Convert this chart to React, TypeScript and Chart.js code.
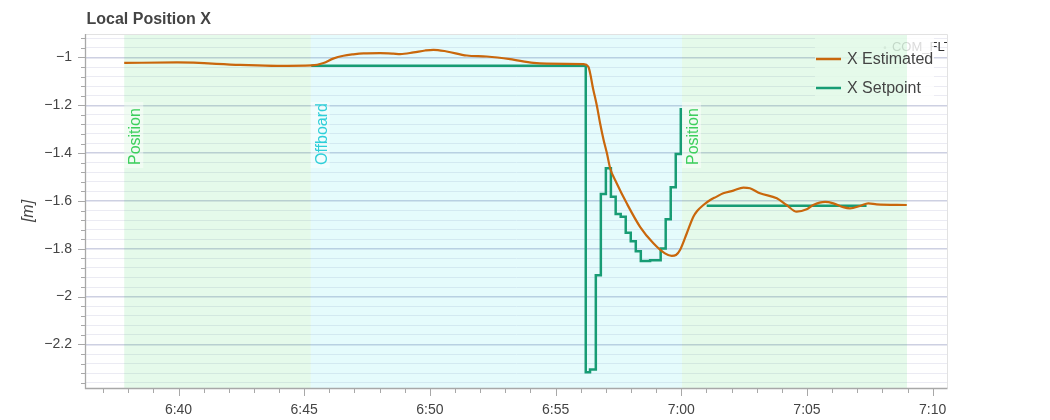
import React, { useEffect, useRef } from "react";
import { Chart, registerables } from "chart.js";

Chart.register(...registerables);

// ---------- data ----------
const titleText = "Local Position X";
const yAxisTitle = "[m]";
const seriesNames = ["X Estimated", "X Setpoint"];
const seriesColors = ["#c9670c", "#179c74"];

// time in seconds (tick labels shown as m:ss)
const estTimes = [
  397.84, 399.95, 402.45, 403.92, 405.3, 405.77, 406.15, 406.56, 406.95, 407.36,
  408.02, 408.54, 408.82, 409.35, 409.81, 410.14, 410.67, 411.47, 412.26, 413.19,
  414.12, 414.65, 416.11, 416.3, 416.5, 416.65, 416.77, 416.91, 417.04, 417.17,
  417.43, 417.83, 418.36, 418.89, 419.35, 419.62, 419.79, 419.95, 420.22, 420.48,
  420.63, 420.88, 421.15, 421.39, 421.67, 422.07, 422.47, 422.73, 423.13, 423.8,
  424.19, 424.59, 424.99, 425.25, 425.72, 426.05, 426.44, 426.71, 427.11, 427.44,
  427.77, 428.97,
];
const estValues = [
  -1.023, -1.021, -1.031, -1.035, -1.033, -1.023, -1.005, -0.993, -0.987, -0.983,
  -0.982, -0.984, -0.986, -0.979, -0.971, -0.968, -0.975, -0.992, -0.996, -1.007,
  -1.023, -1.026, -1.028, -1.038, -1.135, -1.206, -1.275, -1.345, -1.4, -1.463,
  -1.526, -1.61, -1.708, -1.777, -1.819, -1.83, -1.826, -1.805, -1.735, -1.666,
  -1.642, -1.617, -1.596, -1.583, -1.568, -1.557, -1.544, -1.547, -1.568, -1.589,
  -1.617, -1.645, -1.635, -1.617, -1.604, -1.61, -1.626, -1.631, -1.621, -1.61,
  -1.614, -1.617,
];

const spTimes = [
  405.28, 416.2, 416.37, 416.6, 416.8, 417.0, 417.2, 417.39, 417.59, 417.79,
  417.99, 418.19, 418.39, 418.76, 419.18, 419.38, 419.58, 419.78, 419.98,
  420.5, 421.01, 427.37,
];
const spValues: (number | null)[] = [
  -1.035, -2.316, -2.305, -1.911, -1.571, -1.463, -1.582, -1.655, -1.666, -1.733,
  -1.768, -1.81, -1.851, -1.848, -1.799, -1.677, -1.543, -1.404, -1.211,
  null, -1.62, -1.62,
];

const modeNames = ["Position", "Offboard", "Position"];
const modeStarts = [397.84, 405.26, 420.03];
const modeEnds = [405.26, 420.03, 428.98];
const modeFills = ["rgba(0,204,51,0.1)", "rgba(0,215,230,0.1)", "rgba(0,204,51,0.1)"];
const modeTextColors = ["#3ccf5c", "#2fcfd9", "#3ccf5c"];

const paramLabel = "COM_FLTMODE1";
const paramTime = 428.1;
const paramValue = -0.959;

const xMin = 396.32;
const xMax = 430.57;
const yMin = -2.382;
const yMax = -0.902;
const xMajorStep = 5;
const xMinorStep = 1;
const yMajorStep = 0.2;
const yMinorStep = 0.04;

// ---------- helpers ----------
const FONT = '"Liberation Sans", Arial, Helvetica, sans-serif';

const xTicks: number[] = [];
for (let k = Math.ceil(xMin / xMinorStep); k <= Math.floor(xMax / xMinorStep); k++) xTicks.push(k * xMinorStep);
const yTicks: number[] = [];
for (let k = Math.ceil(yMin / yMinorStep - 1e-9); k <= Math.floor(yMax / yMinorStep + 1e-9); k++)
  yTicks.push(Math.round(k * yMinorStep * 1000) / 1000);

const isMajor = (v: number, step: number) => Math.abs(v / step - Math.round(v / step)) < 1e-6;
const fmtTime = (v: number) => `${Math.floor(v / 60)}:${String(Math.round(v % 60)).padStart(2, "0")}`;
const fmtNum = (v: number) => (v < 0 ? "\u2212" : "") + String(Math.abs(Math.round(v * 100) / 100));

const decorPlugin = {
  id: "decor",
  beforeDatasetsDraw(chart: any) {
    const { ctx, chartArea: ca, scales } = chart;
    const x = scales.x;
    const y = scales.y;
    ctx.save();
    ctx.beginPath();
    ctx.rect(ca.left, ca.top, ca.right - ca.left, ca.bottom - ca.top);
    ctx.clip();

    // parameter-change marker text
    const px = x.getPixelForValue(paramTime);
    const py = y.getPixelForValue(paramValue);
    ctx.fillStyle = "#999";
    ctx.beginPath();
    ctx.arc(px, py, 1.3, 0, Math.PI * 2);
    ctx.fill();
    ctx.fillStyle = "#333";
    ctx.font = `13px ${FONT}`;
    ctx.textAlign = "left";
    ctx.textBaseline = "middle";
    ctx.fillText(paramLabel, px + 7, py);

    // legend background
    ctx.fillStyle = "rgba(255,255,255,0.82)";
    ctx.fillRect(ca.right - 132, ca.top + 3, 119, 65);

    // flight mode backgrounds
    for (let i = 0; i < modeNames.length; i++) {
      const x0 = x.getPixelForValue(modeStarts[i]);
      const x1 = x.getPixelForValue(modeEnds[i]);
      ctx.fillStyle = modeFills[i];
      ctx.fillRect(x0, ca.top, x1 - x0, ca.bottom - ca.top);
    }
    // flight mode labels
    for (let i = 0; i < modeNames.length; i++) {
      const x0 = x.getPixelForValue(modeStarts[i]);
      ctx.fillStyle = "rgba(255,255,255,0.45)";
      ctx.fillRect(x0, ca.top + 68, 19, 66);
      ctx.save();
      ctx.translate(x0 + 16, ca.top + 131);
      ctx.rotate(-Math.PI / 2);
      ctx.font = `16px ${FONT}`;
      ctx.fillStyle = modeTextColors[i];
      ctx.textAlign = "left";
      ctx.textBaseline = "alphabetic";
      ctx.fillText(modeNames[i], 0, 0);
      ctx.restore();
    }
    ctx.restore();
  },
  afterDraw(chart: any) {
    const { ctx, chartArea: ca, scales } = chart;
    const x = scales.x;
    const y = scales.y;
    ctx.save();
    // border (top/right)
    ctx.strokeStyle = "#e2e2e2";
    ctx.lineWidth = 1;
    ctx.beginPath();
    ctx.moveTo(ca.left, ca.top + 0.5);
    ctx.lineTo(ca.right + 0.5, ca.top + 0.5);
    ctx.lineTo(ca.right + 0.5, ca.bottom);
    ctx.stroke();

    // axes
    ctx.strokeStyle = "#a8a8a8";
    ctx.lineWidth = 1.3;
    ctx.beginPath();
    ctx.moveTo(ca.left - 0.5, ca.top);
    ctx.lineTo(ca.left - 0.5, ca.bottom + 0.5);
    ctx.lineTo(ca.right + 0.5, ca.bottom + 0.5);
    ctx.stroke();
    ctx.lineWidth = 1;
    ctx.beginPath();
    for (const v of yTicks) {
      const p = Math.round(y.getPixelForValue(v)) + 0.5;
      const len = isMajor(v, yMajorStep) ? 7 : 4;
      ctx.moveTo(ca.left - 1, p);
      ctx.lineTo(ca.left - 1 - len, p);
    }
    for (const v of xTicks) {
      const p = Math.round(x.getPixelForValue(v)) + 0.5;
      const len = isMajor(v, xMajorStep) ? 7 : 4;
      ctx.moveTo(p, ca.bottom + 1);
      ctx.lineTo(p, ca.bottom + 1 + len);
    }
    ctx.stroke();

    // title
    ctx.fillStyle = "#444";
    ctx.font = `bold 16px ${FONT}`;
    ctx.textAlign = "left";
    ctx.textBaseline = "alphabetic";
    ctx.fillText(titleText, ca.left + 0.5, 23.5);

    // y axis title
    ctx.save();
    ctx.translate(33, (ca.top + ca.bottom) / 2);
    ctx.rotate(-Math.PI / 2);
    ctx.font = `italic 16px ${FONT}`;
    ctx.textAlign = "center";
    ctx.textBaseline = "alphabetic";
    ctx.fillStyle = "#444";
    ctx.fillText(yAxisTitle, 0, 0);
    ctx.restore();

    // legend items
    const lx = ca.right - 131;
    const rows = [ca.top + 25, ca.top + 54];
    for (let i = 0; i < seriesNames.length; i++) {
      ctx.strokeStyle = seriesColors[i];
      ctx.lineWidth = 2.5;
      ctx.beginPath();
      ctx.moveTo(lx, rows[i]);
      ctx.lineTo(lx + 25, rows[i]);
      ctx.stroke();
      ctx.fillStyle = "#444";
      ctx.font = `16px ${FONT}`;
      ctx.textAlign = "left";
      ctx.textBaseline = "middle";
      ctx.fillText(seriesNames[i], lx + 31, rows[i] + 1);
    }
    ctx.restore();
  },
};

export default function App() {
  const canvasRef = useRef<HTMLCanvasElement | null>(null);

  useEffect(() => {
    if (!canvasRef.current) return;
    const estData = estTimes.map((t, i) => ({ x: t, y: estValues[i] }));
    const spData = spTimes.map((t, i) => ({ x: t, y: spValues[i] }));
    const chart = new Chart(canvasRef.current, {
      type: "line",
      data: {
        datasets: [
          {
            label: seriesNames[0],
            data: estData as any,
            borderColor: seriesColors[0],
            backgroundColor: seriesColors[0],
            borderWidth: 2.2,
            pointRadius: 0,
            cubicInterpolationMode: "monotone",
            fill: false,
          },
          {
            label: seriesNames[1],
            data: spData as any,
            borderColor: seriesColors[1],
            backgroundColor: seriesColors[1],
            borderWidth: 2.5,
            pointRadius: 0,
            stepped: "before",
            spanGaps: false,
            fill: false,
          },
        ],
      },
      options: {
        animation: false,
        responsive: true,
        maintainAspectRatio: false,
        layout: { padding: { top: 34, right: 103, left: 0, bottom: 0 } },
        plugins: {
          legend: { display: false },
          tooltip: { enabled: false },
          title: { display: false },
        },
        scales: {
          x: {
            type: "linear",
            min: xMin,
            max: xMax,
            afterBuildTicks: (scale: any) => {
              scale.ticks = xTicks.map((v) => ({ value: v }));
            },
            afterFit: (scale: any) => {
              scale.height = 32;
            },
            grid: { display: false, drawTicks: false },
            border: { display: false },
            ticks: {
              autoSkip: false,
              maxRotation: 0,
              padding: 14,
              color: "#444",
              font: { size: 14, family: FONT },
              callback: (v: any) => (isMajor(Number(v), xMajorStep) ? fmtTime(Number(v)) : ""),
            },
          },
          y: {
            type: "linear",
            min: yMin,
            max: yMax,
            afterBuildTicks: (scale: any) => {
              scale.ticks = yTicks.map((v) => ({ value: v }));
            },
            afterFit: (scale: any) => {
              scale.width = 86;
            },
            grid: {
              drawTicks: false,
              color: (c: any) => (isMajor(c.tick.value, yMajorStep) ? "#cdd0e2" : "#ebebf3"),
              lineWidth: (c: any) => (isMajor(c.tick.value, yMajorStep) ? 1.5 : 1),
            },
            border: { display: false },
            ticks: {
              autoSkip: false,
              padding: 14,
              color: "#444",
              font: { size: 14, family: FONT },
              callback: (v: any) => (isMajor(Number(v), yMajorStep) ? fmtNum(Number(v)) : ""),
            },
          },
        },
      },
      plugins: [decorPlugin],
    });
    return () => chart.destroy();
  }, []);

  return (
    <div style={{ position: "fixed", left: 0, top: 0, width: 1050, height: 420, background: "#fff" }}>
      <canvas ref={canvasRef} />
    </div>
  );
}
